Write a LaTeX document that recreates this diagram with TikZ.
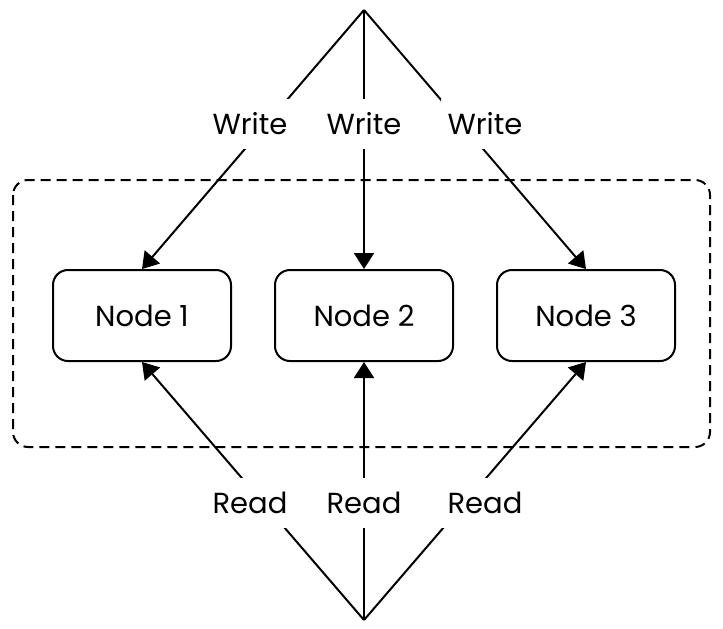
\documentclass[tikz,border=0pt]{standalone}
\usepackage{fontspec}
\setmainfont{Poppins}
\usetikzlibrary{arrows.meta}
\begin{document}
\begin{tikzpicture}[x=.5pt,y=-.5pt,>={Triangle[length=8pt,width=10pt]},line join=round,line width=1pt,font=\fontsize{14.5}{17}\selectfont,
	box/.style={draw,rounded corners=7.5pt,minimum width=89pt,minimum height=45.5pt},
	lab/.style={fill=white,minimum width=44pt,minimum height=25pt,inner sep=0pt}]
		\useasboundingbox (0,0) rectangle (723,628);
		%Khung nét đứt
		\draw[dash pattern=on 5pt off 3pt,rounded corners=7.5pt] (13,180) rectangle (710,447);
		\path (364,10) coordinate (T) (364,620) coordinate (B);
		\foreach \i/\x in {1/142,2/364,3/586}{
		\node[box] (N\i) at (\x,315.5) {Node \i};
		\draw[->] (T)--(N\i.north);
		\draw[->] (B)--(N\i.south);}
		\foreach \t/\x in {1/250,2/364,3/485}{
		\node[lab] (W\t) at (\x,124) {Write};
		\node[lab] (R\t) at (\x,503) {Read};}
\end{tikzpicture}
\end{document}
